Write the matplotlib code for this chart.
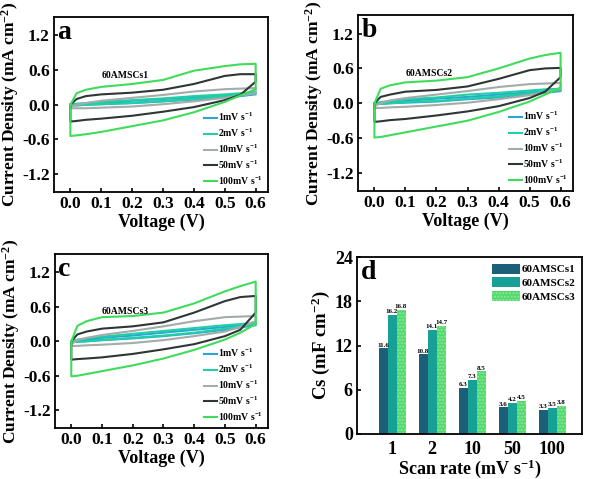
import numpy as np
import matplotlib
matplotlib.use("Agg")
import matplotlib.pyplot as plt

plt.rcParams['font.family'] = ['Liberation Serif', 'DejaVu Serif']
plt.rcParams['font.weight'] = 'bold'
plt.rcParams['axes.labelweight'] = 'bold'
plt.rcParams['mathtext.fontset'] = 'custom'
plt.rcParams['mathtext.rm'] = 'Liberation Serif:bold'
plt.rcParams['mathtext.bf'] = 'Liberation Serif:bold'
plt.rcParams['mathtext.it'] = 'Liberation Serif:bold'
plt.rcParams['mathtext.default'] = 'bf'
plt.rcParams['hatch.linewidth'] = 1.0

# scan rates and legend labels
rates = ["1", "2", "10", "50", "100"]
rate_labels = ["1mV s$^{-1}$", "2mV s$^{-1}$", "10mV s$^{-1}$", "50mV s$^{-1}$", "100mV s$^{-1}$"]
rate_colors = ["#2aa6d6", "#20d0a4", "#a3abab", "#2f3636", "#3fdc5c"]

# voltage points where the curves were read (V)
volt = [0.0, 0.02, 0.05, 0.1, 0.2, 0.3, 0.4, 0.5, 0.55, 0.6]

# CV curves, current density (mA cm-2): upper (charging) and lower (discharging) branch
# panel a - 60AMSCs1
a_up = {
    "1":   [0.0, 0.01, 0.02, 0.04, 0.07, 0.10, 0.13, 0.16, 0.18, 0.20],
    "2":   [0.0, 0.02, 0.03, 0.05, 0.08, 0.11, 0.15, 0.18, 0.20, 0.22],
    "10":  [-0.03, 0.0, 0.03, 0.07, 0.12, 0.17, 0.23, 0.27, 0.28, 0.29],
    "50":  [0.0, 0.10, 0.15, 0.18, 0.21, 0.26, 0.36, 0.50, 0.53, 0.53],
    "100": [0.0, 0.20, 0.26, 0.31, 0.36, 0.43, 0.59, 0.67, 0.70, 0.71],
}
a_lo = {
    "1":   [-0.01, -0.01, 0.0, 0.01, 0.03, 0.06, 0.09, 0.13, 0.15, 0.18],
    "2":   [-0.01, -0.01, 0.0, 0.01, 0.03, 0.06, 0.10, 0.15, 0.17, 0.20],
    "10":  [-0.06, -0.06, -0.06, -0.05, -0.03, 0.01, 0.06, 0.12, 0.16, 0.20],
    "50":  [-0.29, -0.28, -0.26, -0.24, -0.19, -0.12, -0.04, 0.08, 0.17, 0.40],
    "100": [-0.54, -0.53, -0.51, -0.47, -0.37, -0.27, -0.13, 0.05, 0.16, 0.27],
}
# panel b - 60AMSCs2
b_up = {
    "1":   [0.0, 0.01, 0.02, 0.04, 0.08, 0.11, 0.15, 0.19, 0.21, 0.23],
    "2":   [0.0, 0.02, 0.04, 0.07, 0.10, 0.15, 0.18, 0.22, 0.24, 0.25],
    "10":  [-0.05, 0.0, 0.05, 0.09, 0.15, 0.21, 0.28, 0.33, 0.34, 0.35],
    "50":  [0.0, 0.11, 0.15, 0.20, 0.23, 0.29, 0.42, 0.57, 0.60, 0.61],
    "100": [0.0, 0.25, 0.31, 0.36, 0.39, 0.45, 0.60, 0.77, 0.83, 0.87],
}
b_lo = {
    "1":   [-0.01, -0.01, 0.0, 0.01, 0.03, 0.07, 0.10, 0.15, 0.18, 0.21],
    "2":   [-0.01, -0.01, 0.0, 0.02, 0.04, 0.08, 0.12, 0.17, 0.20, 0.23],
    "10":  [-0.08, -0.08, -0.07, -0.06, -0.03, 0.01, 0.07, 0.14, 0.19, 0.25],
    "50":  [-0.32, -0.31, -0.29, -0.27, -0.21, -0.14, -0.05, 0.09, 0.20, 0.45],
    "100": [-0.59, -0.58, -0.55, -0.50, -0.40, -0.30, -0.15, 0.03, 0.15, 0.27],
}
# panel c - 60AMSCs3
c_up = {
    "1":   [0.0, 0.01, 0.03, 0.06, 0.10, 0.15, 0.20, 0.25, 0.28, 0.30],
    "2":   [0.0, 0.03, 0.05, 0.08, 0.13, 0.18, 0.23, 0.28, 0.30, 0.32],
    "10":  [-0.05, 0.02, 0.06, 0.11, 0.18, 0.26, 0.35, 0.42, 0.43, 0.44],
    "50":  [0.0, 0.12, 0.17, 0.22, 0.26, 0.33, 0.50, 0.70, 0.77, 0.79],
    "100": [0.0, 0.27, 0.35, 0.42, 0.44, 0.50, 0.66, 0.87, 0.96, 1.04],
}
c_lo = {
    "1":   [-0.01, -0.01, 0.0, 0.02, 0.05, 0.09, 0.14, 0.20, 0.24, 0.28],
    "2":   [-0.01, -0.01, 0.0, 0.02, 0.06, 0.10, 0.15, 0.22, 0.26, 0.30],
    "10":  [-0.08, -0.08, -0.07, -0.06, -0.03, 0.02, 0.09, 0.17, 0.25, 0.35],
    "50":  [-0.32, -0.31, -0.30, -0.28, -0.22, -0.14, -0.05, 0.09, 0.20, 0.50],
    "100": [-0.61, -0.60, -0.57, -0.52, -0.42, -0.30, -0.15, 0.03, 0.15, 0.30],
}

# bar chart - specific capacitance (mF cm-2)
scan_rates = ["1", "2", "10", "50", "100"]
cs1 = [11.6, 10.8, 6.3, 3.6, 3.3]
cs2 = [16.2, 14.1, 7.3, 4.2, 3.5]
cs3 = [16.8, 14.7, 8.5, 4.5, 3.8]
samples = ["60AMSCs1", "60AMSCs2", "60AMSCs3"]

W, H = 591, 479
fig = plt.figure(figsize=(W / 100, H / 100), dpi=100)


def box(l, r, t, b):
    return [l / W, (H - b) / H, (r - l) / W, (b - t) / H]


def cv_panel(rect, up, lo, letter, name):
    ax = fig.add_axes(rect)
    v = np.array(volt)
    for rate, lab, col in zip(rates, rate_labels, rate_colors):
        xs = np.concatenate([v, v[::-1], v[:1]])
        ys = np.concatenate([up[rate], lo[rate][::-1], up[rate][:1]])
        ax.plot(xs, ys, color=col, lw=1.5, label=lab)
    ax.set_xlim(-0.053, 0.64)
    ax.set_ylim(-1.51, 1.52)
    ax.set_xticks([0.0, 0.1, 0.2, 0.3, 0.4, 0.5, 0.6])
    ax.set_yticks([-1.2, -0.6, 0.0, 0.6, 1.2])
    ax.set_xticklabels(["0.0", "0.1", "0.2", "0.3", "0.4", "0.5", "0.6"])
    ax.set_yticklabels(["-1.2", "-0.6", "0.0", "0.6", "1.2"])
    ax.tick_params(direction='in', labelsize=12.5, length=3, width=1.2, pad=3)
    for s in ax.spines.values():
        s.set_linewidth(1.3)
    ax.set_xlabel("Voltage (V)", fontsize=13, labelpad=1)
    ax.set_ylabel("Current Density (mA cm$^{-2}$)", fontsize=12.5, labelpad=1)
    ax.text(0.015, 0.985, letter, transform=ax.transAxes, fontsize=20,
            va='top', ha='left')
    ax.text(0.1, 0.47, name, fontsize=7)
    ax.legend(loc='lower right', frameon=False, fontsize=7, handlelength=1.3,
              handletextpad=0.1, labelspacing=0.35, borderaxespad=0.15)
    return ax


cv_panel(box(54, 268, 17, 192), a_up, a_lo, "a", "60AMSCs1")
cv_panel(box(358, 573, 15, 191), b_up, b_lo, "b", "60AMSCs2")
cv_panel(box(55, 268, 254, 428), c_up, c_lo, "c", "60AMSCs3")

# panel d
ax = fig.add_axes(box(357, 582, 257, 434))
x = np.arange(len(scan_rates))
bw = 0.225
bar_colors = ["#1b5f78", "#16a096", "#52d86c"]
for i, (vals, col) in enumerate(zip([cs1, cs2, cs3], bar_colors)):
    if i == 2:
        ax.bar(x + (i - 1) * bw, vals, bw, color=col, edgecolor="#8ceb98",
               hatch='.....', linewidth=0, label=samples[i])
    else:
        ax.bar(x + (i - 1) * bw, vals, bw, color=col, linewidth=0,
               label=samples[i])
    for xi, val in zip(x + (i - 1) * bw, vals):
        ax.text(xi, val + 0.1, f"{val:.1f}", ha='center', va='bottom', fontsize=5)
ax.set_xlim(-0.875, 4.75)
ax.set_ylim(0, 24)
ax.set_xticks(x)
ax.set_xticklabels(scan_rates)
ax.set_yticks([0, 6, 12, 18, 24])
ax.tick_params(direction='in', labelsize=13, length=3, width=1.2, pad=3)
ax.tick_params(axis='x', length=0, pad=5)
for s in ax.spines.values():
    s.set_linewidth(1.3)
ax.set_xlabel("Scan rate (mV s$^{-1}$)", fontsize=13, labelpad=0)
ax.set_ylabel("Cs (mF cm$^{-2}$)", fontsize=13.5, labelpad=2)
ax.text(0.015, 0.985, "d", transform=ax.transAxes, fontsize=20, va='top', ha='left')
ax.legend(loc='upper right', frameon=False, fontsize=8, handlelength=2.6,
          handleheight=1.0, handletextpad=0.1, labelspacing=0.25, borderaxespad=0.2)

fig.savefig("out.png", dpi=100)
